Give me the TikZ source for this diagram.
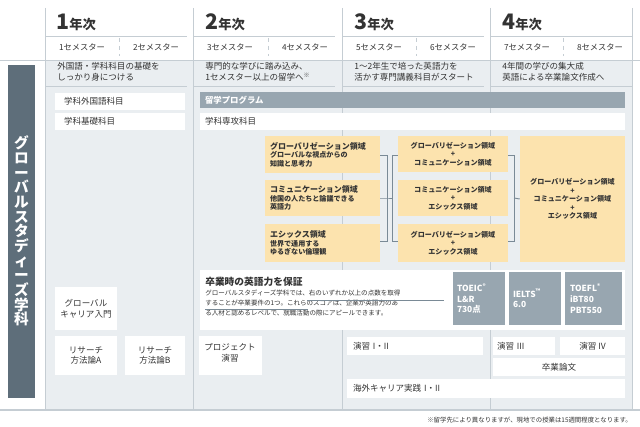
\documentclass[tikz,border=0pt]{standalone}
\usepackage{fontspec}
\setmainfont{Noto Sans CJK JP}
\begin{document}
\begin{tikzpicture}[x=0.75pt,y=-0.75pt,
  every node/.style={inner sep=0pt,font=\fontsize{6.4}{8}\selectfont,text=black!80},
  wbox/.style={fill=white,align=center},
  obox/.style={fill=orng,align=center,font=\fontsize{5.3}{6.3}\selectfont\bfseries},
  gbox/.style={fill=gray0,text=white,align=left,font=\fontsize{6.3}{8}\selectfont\bfseries},
  colline/.style={draw=lineg,line width=0.6pt},
  brk/.style={draw=brk,line width=0.7pt}]
\definecolor{bgc}{HTML}{EAEEF1}
\definecolor{lineg}{HTML}{C5CDD3}
\definecolor{gray0}{HTML}{98A6B0}
\definecolor{slate}{HTML}{5E6E7A}
\definecolor{brk}{HTML}{7A8A96}
\definecolor{orng}{HTML}{FCE3AE}
\useasboundingbox (0,0) rectangle (640,427);
\fill[bgc] (45,60) rectangle (632,410);
\fill[slate] (8,65) rectangle (35,398);
\node[text=white,font=\fontsize{11}{11}\selectfont\bfseries,align=center] (dept) at (21.5,231)
 {グ\\ロ\\ー\\バ\\ル\\ス\\タ\\デ\\ィ\\ー\\ズ\\学\\科};
% lines
\draw[colline] (0,60) -- (640,60);
\draw[lineg,line width=1.2pt] (0,410) -- (640,410);
\foreach \x in {45,193,342,490,632} \draw[colline] (\x,8) -- (\x,410);
\foreach \x in {45,193,342,490} \draw[colline] (\x,36) -- (\x+142,36);
\foreach \x in {119,268,416,563} \draw[lineg,dashed] (\x,38) -- (\x,56);
\foreach \x in {45,193,342,490} \draw[colline] (\x,86) -- (\x+142,86);
% year headers
\foreach \x/\n in {56/1,205/2,354/3,502/4}
  \node[anchor=base west] (y\n) at (\x,30) {\fontsize{16}{16}\selectfont\bfseries\n\fontsize{10}{10}\selectfont 年次};
\foreach \x/\n in {82/1,156/2,230/3,305/4,379/5,453/6,527/7,600/8}
  \node (s\n) at (\x,47) {\fontsize{6.2}{7}\selectfont \n セメスター};
\node[anchor=west,align=left] (d1) at (57,72) {外国語・学科科目の基礎を\\しっかり身につける};
\node[anchor=west,align=left] (d2) at (205,72) {専門的な学びに踏み込み、\\1セメスター以上の留学へ\textsuperscript{※}};
\node[anchor=west,align=left] (d3) at (354,72) {1〜2年生で培った英語力を\\活かす専門講義科目がスタート};
\node[anchor=west,align=left] (d4) at (502,72) {4年間の学びの集大成\\英語による卒業論文作成へ};
% rows
\node[wbox,minimum width=130*0.75pt,minimum height=17*0.75pt,text width=112*0.75pt,align=left] (gk) at (120,101.5) {学科外国語科目};
\node[wbox,minimum width=130*0.75pt,minimum height=17*0.75pt,text width=112*0.75pt,align=left] (gb) at (120,121.5) {学科基礎科目};
\node[gbox,minimum width=425*0.75pt,minimum height=16*0.75pt,text width=415*0.75pt] (ryu) at (412.5,100) {留学プログラム};
\node[wbox,minimum width=425*0.75pt,minimum height=17*0.75pt,text width=415*0.75pt,align=left] (sk) at (412.5,121.5) {学科専攻科目};
% orange boxes
\node[obox,minimum width=115*0.75pt,minimum height=37*0.75pt,text width=105*0.75pt,align=left] (a1) at (322.5,154.5) {{\fontsize{6}{7}\selectfont グローバリゼーション領域}\\グローバルな視点からの\\知識と思考力};
\node[obox,minimum width=115*0.75pt,minimum height=36*0.75pt,text width=105*0.75pt,align=left] (a2) at (322.5,198) {{\fontsize{6}{7}\selectfont コミュニケーション領域}\\他国の人たちと論議できる\\英語力};
\node[obox,minimum width=115*0.75pt,minimum height=38*0.75pt,text width=105*0.75pt,align=left] (a3) at (322.5,243) {{\fontsize{6}{7}\selectfont エシックス領域}\\世界で通用する\\ゆるぎない倫理観};
\node[obox,minimum width=110*0.75pt,minimum height=36*0.75pt] (b1) at (453,154) {グローバリゼーション領域\\+\\コミュニケーション領域};
\node[obox,minimum width=110*0.75pt,minimum height=36*0.75pt] (b2) at (453,198) {コミュニケーション領域\\+\\エシックス領域};
\node[obox,minimum width=110*0.75pt,minimum height=38*0.75pt] (b3) at (453,243) {グローバリゼーション領域\\+\\エシックス領域};
\node[obox,minimum width=105*0.75pt,minimum height=126*0.75pt] (c1) at (572.5,199) {グローバリゼーション領域\\+\\コミュニケーション領域\\+\\エシックス領域};
% brackets
\coordinate (k1) at (387,198); \coordinate (k2) at (392,198);
\draw[brk] (a1.east|-0,155) -- (387,155) -- (387,241) -- (a3.east|-0,241);
\draw[brk] (a2.east) -- (k1) -- (k2);
\draw[brk] (b1.west|-0,155) -- (392,155) -- (392,241) -- (b3.west|-0,241);
\coordinate (m1) at (514,198);
\draw[brk] (b1.east|-0,155) -- (514,155) -- (514,241) -- (b3.east|-0,241);
\draw[brk] (m1) -- (c1.west);
% graduation box
\node[wbox,minimum width=425*0.75pt,minimum height=60*0.75pt] (grad) at (412.5,300) {};
\node[anchor=west,font=\fontsize{7.3}{8}\selectfont\bfseries] (gt) at (205,282) {卒業時の英語力を保証};
\node[anchor=north west,align=left,font=\fontsize{4.9}{7.3}\selectfont] (gtx) at (205,290)
 {グローバルスタディーズ学科では、右のいずれか以上の点数を取得\\することが卒業要件の1つ。これらのスコアは、企業が英語力のあ\\る人材と認めるレベルで、就職活動の際にアピールできます。};
\draw[brk,line width=0.5pt] (307,300.5) -- (444,300.5);
\draw[brk,line width=0.5pt] (205,309.5) -- (308,309.5);
\node[gbox,minimum width=52*0.75pt,minimum height=53*0.75pt,text width=44*0.75pt] (t1) at (479,298.5) {TOEIC\textsuperscript{®}\\L\&R\\730点};
\node[gbox,minimum width=52*0.75pt,minimum height=53*0.75pt,text width=44*0.75pt] (t2) at (535,298.5) {IELTS\textsuperscript{™}\\6.0};
\node[gbox,minimum width=57*0.75pt,minimum height=53*0.75pt,text width=47*0.75pt] (t3) at (593.5,298.5) {TOEFL\textsuperscript{®}\\iBT80\\PBT550};
% lower boxes
\node[wbox,minimum width=62*0.75pt,minimum height=43*0.75pt] (gc) at (86,308.5) {グローバル\\キャリア入門};
\node[wbox,minimum width=62*0.75pt,minimum height=39*0.75pt] (ra) at (86,355.5) {リサーチ\\方法論A};
\node[wbox,minimum width=60*0.75pt,minimum height=39*0.75pt] (rb) at (155,355.5) {リサーチ\\方法論B};
\node[wbox,minimum width=63*0.75pt,minimum height=39*0.75pt,anchor=north] (pj) at (230,336) {};
\node[anchor=north] (pjt) at (230,343) {\begin{tabular}{@{}c@{}}プロジェクト\\演習\end{tabular}};
\node[wbox,minimum width=136*0.75pt,minimum height=18*0.75pt,text width=124*0.75pt,align=left] (e12) at (415,346) {演習 I・II};
\node[wbox,minimum width=62*0.75pt,minimum height=18*0.75pt,text width=54*0.75pt,align=left] (e3) at (524,346) {演習 III};
\node[wbox,minimum width=65*0.75pt,minimum height=18*0.75pt] (e4) at (592.5,346) {演習 IV};
\node[wbox,minimum width=132*0.75pt,minimum height=18*0.75pt] (so) at (559,367) {卒業論文};
\node[wbox,minimum width=278*0.75pt,minimum height=19*0.75pt,text width=266*0.75pt,align=left] (kc) at (486,388.5) {海外キャリア実践 I・II};
\node[anchor=east,font=\fontsize{4.8}{5}\selectfont] (fn) at (632,420) {※留学先により異なりますが、現地での授業は15週間程度となります。};
\end{tikzpicture}
\end{document}
